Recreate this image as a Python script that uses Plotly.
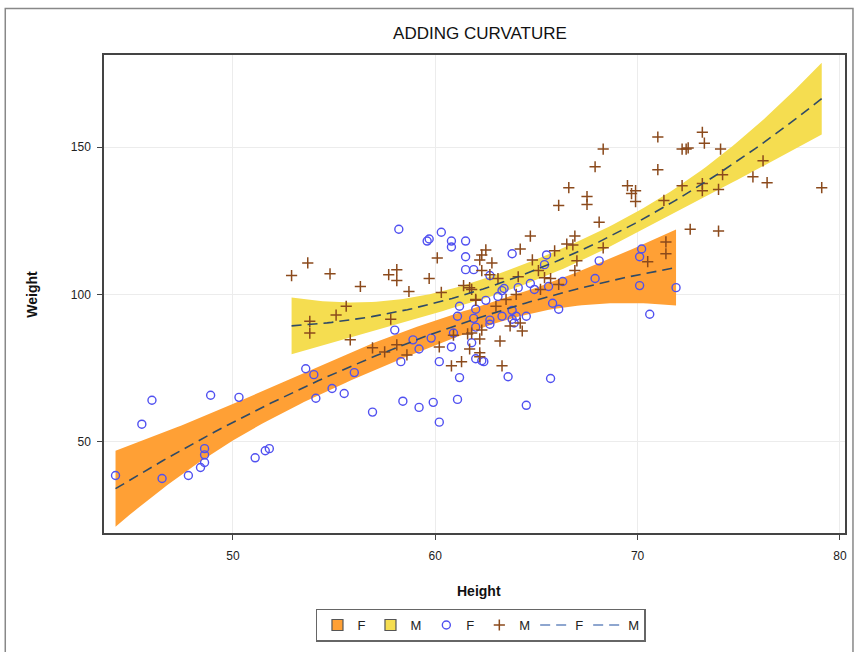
import numpy as np
import plotly.graph_objects as go

# ---- data ----
f_height = [44.2, 45.5, 46.0, 46.5, 47.8, 48.4, 48.6, 48.6, 48.6, 48.9, 50.3, 51.1, 51.6, 51.8,
            53.6, 54.0, 54.1, 54.9, 55.5, 56.0, 56.9, 58.0, 58.3, 58.4, 58.9, 59.2, 59.2, 59.8,
            59.9, 60.2, 60.2, 60.8, 60.9, 61.1, 61.2, 61.2, 61.1, 61.8, 61.9, 62.0, 62.0, 58.2,
            59.6, 59.7, 60.3, 60.8, 60.8, 61.5, 61.5, 61.5, 61.9, 63.8, 65.5, 65.4, 62.7, 63.4,
            63.3, 64.1, 64.7, 64.9, 65.6, 66.3, 65.8, 66.1, 62.5, 63.1, 62.0, 62.7, 62.7, 63.3,
            63.8, 63.8, 63.9, 64.0, 64.5, 62.3, 62.4, 63.6, 65.7, 64.5, 67.9, 70.1, 71.9, 70.6,
            68.1, 70.2, 70.1]
f_weight = [38.6, 56.0, 64.1, 37.6, 38.6, 41.3, 43.0, 45.6, 47.7, 65.8, 65.1, 44.6, 47.0, 47.7,
            74.8, 72.8, 64.8, 68.1, 66.4, 73.5, 60.1, 87.9, 77.2, 63.8, 84.6, 81.5, 61.7, 85.2,
            63.4, 56.7, 77.2, 82.2, 86.9, 92.6, 96.0, 71.8, 64.4, 83.6, 91.9, 88.9, 78.2, 122.1,
            118.1, 118.8, 121.1, 118.1, 116.1, 118.1, 112.8, 108.4, 108.4, 113.8, 113.4, 110.1, 106.4, 102.0,
            101.3, 102.3, 103.7, 101.7, 102.7, 104.4, 97.0, 95.0, 98.0, 99.3, 95.0, 91.3, 89.9, 92.6,
            94.6, 91.6, 90.3, 92.6, 92.6, 77.5, 77.2, 72.1, 71.5, 62.4, 105.4, 103.0, 102.3, 93.3,
            111.4, 115.4, 112.8]

m_height = [52.9, 53.7, 54.8, 56.3, 57.7, 58.1, 58.1, 58.7, 59.7, 60.1, 60.3, 61.4, 61.7, 62.2,
            53.8, 53.8, 55.1, 55.6, 55.8, 57.8, 56.9, 57.5, 58.1, 58.6, 60.2, 60.8, 61.3, 60.9,
            61.6, 61.7, 62.0, 62.3, 62.5, 62.8, 62.3, 62.7, 63.1, 64.1, 64.2, 65.1, 65.4, 65.7,
            65.9, 67.0, 66.9, 61.8, 62.0, 63.5, 64.0, 63.0, 65.2, 62.3, 61.8, 62.2, 63.7, 64.2,
            64.3, 63.2, 62.2, 62.2, 63.3, 66.1, 71.0, 73.2, 73.3, 72.2, 72.4, 72.5, 74.1, 68.3,
            67.9, 71.0, 76.2, 75.7, 76.4, 79.1, 74.2, 73.2, 73.2, 74.0, 72.2, 71.3, 66.6, 66.1,
            67.5, 67.5, 69.5, 69.7, 69.9, 69.9, 68.1, 72.6, 74.0, 64.7, 66.9, 66.5, 66.8, 68.3,
            71.4, 71.4, 70.5, 64.8]
m_weight = [106.4, 110.7, 107.0, 102.7, 106.7, 108.4, 104.7, 101.0, 105.4, 112.4, 100.7, 103.0, 102.3, 111.7,
            90.9, 86.9, 93.0, 96.0, 84.6, 91.6, 81.9, 80.5, 82.9, 79.5, 82.2, 75.8, 77.2, 86.2,
            86.6, 81.5, 98.0, 113.4, 115.1, 110.7, 108.1, 106.7, 105.4, 106.0, 115.4, 108.1, 105.7, 105.4,
            114.8, 111.4, 108.1, 101.7, 98.3, 98.3, 100.0, 96.0, 101.7, 87.9, 86.9, 84.9, 89.3, 90.3,
            87.6, 84.2, 80.2, 78.9, 75.8, 103.4, 153.4, 155.0, 151.3, 149.3, 149.3, 149.7, 149.3, 149.3,
            143.3, 142.3, 145.3, 139.9, 137.9, 136.2, 140.6, 137.6, 135.2, 135.6, 136.9, 131.9, 136.2, 130.2,
            133.2, 130.5, 136.9, 134.2, 135.2, 131.5, 124.5, 122.1, 121.5, 119.8, 119.8, 117.1, 116.8, 115.8,
            117.8, 113.8, 111.1, 111.7]

x_ticks = [50, 60, 70, 80]
y_ticks = [50, 100, 150]


def quad_fit_clm(x, y, t=1.986, n=120):
    x = np.asarray(x, float)
    y = np.asarray(y, float)
    X = np.column_stack([np.ones_like(x), x, x ** 2])
    beta, *_ = np.linalg.lstsq(X, y, rcond=None)
    resid = y - X @ beta
    s2 = resid @ resid / (len(x) - 3)
    xtx_inv = np.linalg.inv(X.T @ X)
    xg = np.linspace(x.min(), x.max(), n)
    G = np.column_stack([np.ones_like(xg), xg, xg ** 2])
    yh = G @ beta
    se = np.sqrt(s2 * np.einsum("ij,jk,ik->i", G, xtx_inv, G))
    return xg, yh, yh - t * se, yh + t * se


fx, fy, flo, fhi = quad_fit_clm(f_height, f_weight)
mx, my, mlo, mhi = quad_fit_clm(m_height, m_weight)

ORANGE = "#FFA035"
YELLOW = "#F5DD50"
BLUE = "#5050F0"
BROWN = "#8B4A1C"
LINE = "#2F4A66"
LEG_LINE = "#8EA6CF"

fig = go.Figure()
fig.add_trace(go.Scatter(x=list(fx) + list(fx[::-1]), y=list(fhi) + list(flo[::-1]),
                         fill="toself", fillcolor=ORANGE, line=dict(width=0, color=ORANGE),
                         mode="lines", showlegend=False, hoverinfo="skip"))
fig.add_trace(go.Scatter(x=list(mx) + list(mx[::-1]), y=list(mhi) + list(mlo[::-1]),
                         fill="toself", fillcolor=YELLOW, line=dict(width=0, color=YELLOW),
                         mode="lines", showlegend=False, hoverinfo="skip"))
fig.add_trace(go.Scatter(x=f_height, y=f_weight, mode="markers", showlegend=False,
                         marker=dict(symbol="circle-open", size=8, color=BLUE, line=dict(width=1.4, color=BLUE))))
fig.add_trace(go.Scatter(x=m_height, y=m_weight, mode="markers", showlegend=False,
                         marker=dict(symbol="cross-thin-open", size=8, color=BROWN, line=dict(width=1.5, color=BROWN))))
fig.add_trace(go.Scatter(x=fx, y=fy, mode="lines", showlegend=False,
                         line=dict(color=LINE, width=1.6, dash="10px,6px")))
fig.add_trace(go.Scatter(x=mx, y=my, mode="lines", showlegend=False,
                         line=dict(color=LINE, width=1.6, dash="10px,6px")))

# legend-only entries
fig.add_trace(go.Scatter(x=[None], y=[None], mode="markers", name="F",
                         marker=dict(symbol="square", size=11, color=ORANGE, line=dict(width=1.2, color="#555"))))
fig.add_trace(go.Scatter(x=[None], y=[None], mode="markers", name="M",
                         marker=dict(symbol="square", size=11, color=YELLOW, line=dict(width=1.2, color="#555"))))
fig.add_trace(go.Scatter(x=[None], y=[None], mode="markers", name="F",
                         marker=dict(symbol="circle-open", size=8, color=BLUE, line=dict(width=1.4, color=BLUE))))
fig.add_trace(go.Scatter(x=[None], y=[None], mode="markers", name="M",
                         marker=dict(symbol="cross-thin-open", size=8, color=BROWN, line=dict(width=1.5, color=BROWN))))
fig.add_trace(go.Scatter(x=[None], y=[None], mode="lines", name="F",
                         line=dict(color=LEG_LINE, width=2, dash="10px,6px")))
fig.add_trace(go.Scatter(x=[None], y=[None], mode="lines", name="M",
                         line=dict(color=LEG_LINE, width=2, dash="10px,6px")))

L, R, T, B = 104, 11, 55, 114
W, H = 858, 652
pw, ph = W - L - R, H - T - B


def px(xp):
    return (xp - L) / pw


def py(yp):
    return (H - B - yp) / ph


fig.update_layout(
    width=W, height=H,
    margin=dict(l=L, r=R, t=T, b=B),
    paper_bgcolor="white", plot_bgcolor="white",
    font=dict(family="Liberation Sans, Arial, sans-serif", size=12, color="#222"),
    title=dict(text="ADDING CURVATURE", x=480 / W, xanchor="center", xref="container",
               y=1 - 33 / H, yanchor="middle", yref="container",
               font=dict(size=17, color="#111")),
    showlegend=True,
    legend=dict(orientation="h", x=px(482), xanchor="center", y=py(631), yanchor="middle",
                bordercolor="#666", borderwidth=1.5, font=dict(size=13, color="#222"),
                itemwidth=30, tracegroupgap=0),
    xaxis=dict(range=[43.63, 80.25], tickvals=x_ticks, showgrid=True, gridcolor="#ececec",
               zeroline=False, showline=True, linecolor="#444", linewidth=1.5, mirror=True,
               ticks="outside", ticklen=5, tickcolor="#444", ticklabelstandoff=6,
               tickfont=dict(size=12, color="#222")),
    yaxis=dict(range=[19.1, 181.2], tickvals=y_ticks, showgrid=True, gridcolor="#ececec",
               zeroline=False, showline=True, linecolor="#444", linewidth=1.5, mirror=True,
               ticks="outside", ticklen=5, tickcolor="#444", ticklabelstandoff=4,
               tickfont=dict(size=12, color="#222")),
    annotations=[
        dict(text="<b>Height</b>", x=px(480), y=py(597), xref="paper", yref="paper",
             showarrow=False, font=dict(size=14, color="#111"), xanchor="center", yanchor="middle"),
        dict(text="<b>Weight</b>", x=px(32), y=py(297), xref="paper", yref="paper", textangle=-90,
             showarrow=False, font=dict(size=14, color="#111"), xanchor="center", yanchor="middle"),
    ],
    shapes=[
        dict(type="rect", xref="paper", yref="paper", x0=px(5), x1=px(855), y0=py(660), y1=py(8),
             line=dict(color="#888", width=1.5), fillcolor="rgba(0,0,0,0)", layer="below"),
    ],
)

fig.write_html("out.html")
